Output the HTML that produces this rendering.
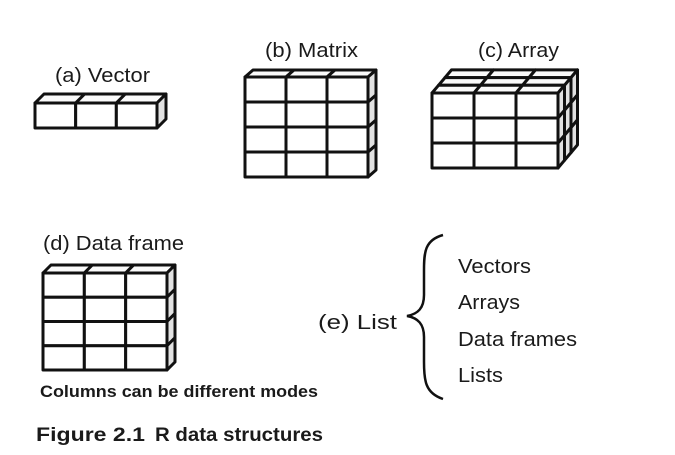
<!DOCTYPE html>
<html><head><meta charset="utf-8"><style>
html,body{margin:0;padding:0;background:#fff;width:675px;height:455px;overflow:hidden}
svg{display:block}
text{font-family:"Liberation Sans",sans-serif;fill:#1a1a1a}
</style></head><body>
<svg id="s" width="675" height="455" viewBox="0 0 675 455" xmlns="http://www.w3.org/2000/svg">
<text x="55" y="82" font-size="20.5" textLength="95" lengthAdjust="spacingAndGlyphs">(a) Vector</text>
<text x="265" y="57" font-size="20.5" textLength="93" lengthAdjust="spacingAndGlyphs">(b) Matrix</text>
<text x="478" y="57" font-size="20.5" textLength="81" lengthAdjust="spacingAndGlyphs">(c) Array</text>
<text x="43" y="250" font-size="20.5" textLength="141" lengthAdjust="spacingAndGlyphs">(d) Data frame</text>
<text x="40" y="397" font-size="16.5" font-weight="bold" textLength="278" lengthAdjust="spacingAndGlyphs">Columns can be different modes</text>
<text x="36" y="441" font-size="19" font-weight="bold" textLength="109" lengthAdjust="spacingAndGlyphs">Figure 2.1</text>
<text x="155" y="441" font-size="19" font-weight="bold" textLength="168" lengthAdjust="spacingAndGlyphs">R data structures</text>
<text x="318" y="329" font-size="20.5" textLength="79" lengthAdjust="spacingAndGlyphs">(e) List</text>
<text x="458" y="273" font-size="20.5" textLength="73" lengthAdjust="spacingAndGlyphs">Vectors</text>
<text x="458" y="309" font-size="20.5" textLength="62" lengthAdjust="spacingAndGlyphs">Arrays</text>
<text x="458" y="346" font-size="20.5" textLength="119" lengthAdjust="spacingAndGlyphs">Data frames</text>
<text x="458" y="382" font-size="20.5" textLength="45" lengthAdjust="spacingAndGlyphs">Lists</text>
<path d="M443 235 C425 240 424 252 424 270 L424 295 C424 308 418 314 407 316 C418 318 424 324 424 337 L424 362 C424 380 425 393 443 399" fill="none" stroke="#111" stroke-width="2.5"/>
<g id="g" stroke="#111" stroke-width="3" stroke-linejoin="round"></g>
</svg>
<script>
var g=document.getElementById('g'),NS='http://www.w3.org/2000/svg';
function poly(pts,fill){var p=document.createElementNS(NS,'polygon');p.setAttribute('points',pts.map(function(a){return a.join(',')}).join(' '));p.setAttribute('fill',fill);g.appendChild(p);}
function box(x,y,w,h,cols,rows,layers,dx,dy){
 var cw=w/cols,rh=h/rows;
 for(var l=layers-1;l>=0;l--){for(var c=0;c<cols;c++){
  var x0=x+c*cw+l*dx,y0=y-l*dy;
  poly([[x0,y0],[x0+cw,y0],[x0+cw+dx,y0-dy],[x0+dx,y0-dy]],'#fafafa');}}
 for(var l=layers-1;l>=0;l--){for(var r=0;r<rows;r++){
  var x0=x+w+l*dx,y0=y+r*rh-l*dy;
  poly([[x0,y0],[x0+dx,y0-dy],[x0+dx,y0-dy+rh],[x0,y0+rh]],'#e2e2e2');}}
 for(var r=0;r<rows;r++)for(var c=0;c<cols;c++)poly([[x+c*cw,y+r*rh],[x+(c+1)*cw,y+r*rh],[x+(c+1)*cw,y+(r+1)*rh],[x+c*cw,y+(r+1)*rh]],'#fff');
}
box(35,103,122,25,3,1,1,9,9);
box(245,77,123,100,3,4,1,8,7);
box(432,93,126,75,3,3,3,6.5,7.7);
box(43,273,124,97,3,4,1,8,8);
</script>
</body></html>
